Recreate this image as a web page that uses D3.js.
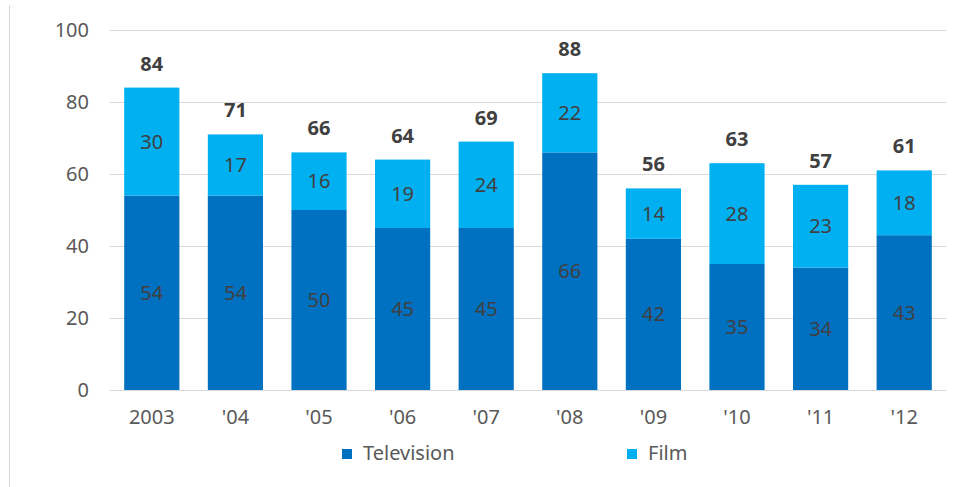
<!DOCTYPE html>
<html>
<head>
<meta charset="utf-8">
<script src="https://cdn.jsdelivr.net/npm/d3@7"></script>
<style>
  html, body { margin: 0; padding: 0; background: #fff; }
  svg { display: block; font-family: "Noto Sans", "Open Sans", sans-serif; }
</style>
</head>
<body>
<svg id="chart" width="974" height="487"></svg>
<script>
// Years and the two stacked series
const years = ["2003", "'04", "'05", "'06", "'07", "'08", "'09", "'10", "'11", "'12"];
const television = [54, 54, 50, 45, 45, 66, 42, 35, 34, 43];
const film = [30, 17, 16, 19, 24, 22, 14, 28, 23, 18];
const totals = [84, 71, 66, 64, 69, 88, 56, 63, 57, 61];
const yTicks = [0, 20, 40, 60, 80, 100];
const seriesNames = ["Television", "Film"];
const seriesColors = ["#0070C0", "#00B0F0"];

const svg = d3.select("#chart");
const fontSize = 20;

// Thin frame line on the left edge
svg.append("line")
  .attr("x1", 9.5).attr("x2", 9.5).attr("y1", 5).attr("y2", 487)
  .attr("stroke", "#d9d9d9").attr("stroke-width", 1);

const x = d3.scaleBand().domain(years).range([110, 946]).paddingInner(0.34).paddingOuter(0.17);
const y = d3.scaleLinear().domain([0, 100]).range([390, 30]);

// Horizontal gridlines
svg.append("g").selectAll("line").data(yTicks).join("line")
  .attr("x1", 110).attr("x2", 946)
  .attr("y1", d => Math.round(y(d)) + 0.5).attr("y2", d => Math.round(y(d)) + 0.5)
  .attr("stroke", "#d9d9d9").attr("stroke-width", 1);

// Y axis labels
const yAxis = svg.append("g").attr("transform", "translate(89,0)")
  .call(d3.axisLeft(y).tickValues(yTicks).tickSize(0).tickPadding(0));
yAxis.select(".domain").remove();
yAxis.selectAll("text").attr("fill", "#595959").style("font-size", fontSize + "px")
  .style("font-family", "\"Noto Sans\", sans-serif");

// X axis labels
const xAxis = svg.append("g").attr("transform", "translate(0,410)")
  .call(d3.axisBottom(x).tickSize(0).tickPadding(0));
xAxis.select(".domain").remove();
xAxis.selectAll("text").attr("fill", "#595959").style("font-size", fontSize + "px")
  .style("font-family", "\"Noto Sans\", sans-serif");

// Stacked data
const rows = years.map((yr, i) => ({ year: yr, Television: television[i], Film: film[i] }));
const stack = d3.stack().keys(seriesNames)(rows);

const layers = svg.append("g").selectAll("g").data(stack).join("g")
  .attr("fill", (d, i) => seriesColors[i]);

layers.selectAll("rect").data(d => d).join("rect")
  .attr("x", d => x(d.data.year))
  .attr("width", x.bandwidth())
  .attr("y", d => y(d[1]))
  .attr("height", d => y(d[0]) - y(d[1]));

// Segment value labels
layers.selectAll("text").data(d => d).join("text")
  .attr("x", d => x(d.data.year) + x.bandwidth() / 2)
  .attr("y", d => (y(d[0]) + y(d[1])) / 2)
  .attr("dy", "0.35em")
  .attr("text-anchor", "middle")
  .attr("fill", "#404040")
  .style("font-size", fontSize + "px")
  .text(d => d[1] - d[0]);

// Totals above each bar
svg.append("g").selectAll("text").data(years).join("text")
  .attr("x", d => x(d) + x.bandwidth() / 2)
  .attr("y", (d, i) => y(totals[i]) - 17)
  .attr("text-anchor", "middle")
  .attr("fill", "#404040")
  .attr("font-weight", "bold")
  .style("font-size", fontSize + "px")
  .text((d, i) => totals[i]);

// Legend
const legendX = [342, 627];
const legend = svg.append("g").selectAll("g").data(seriesNames).join("g")
  .attr("transform", (d, i) => `translate(${legendX[i]},449)`);
legend.append("rect").attr("width", 10).attr("height", 10)
  .attr("fill", (d, i) => seriesColors[i]);
legend.append("text").attr("x", 21).attr("y", 11)
  .attr("fill", "#595959").style("font-size", fontSize + "px")
  .text(d => d);
</script>
</body>
</html>
